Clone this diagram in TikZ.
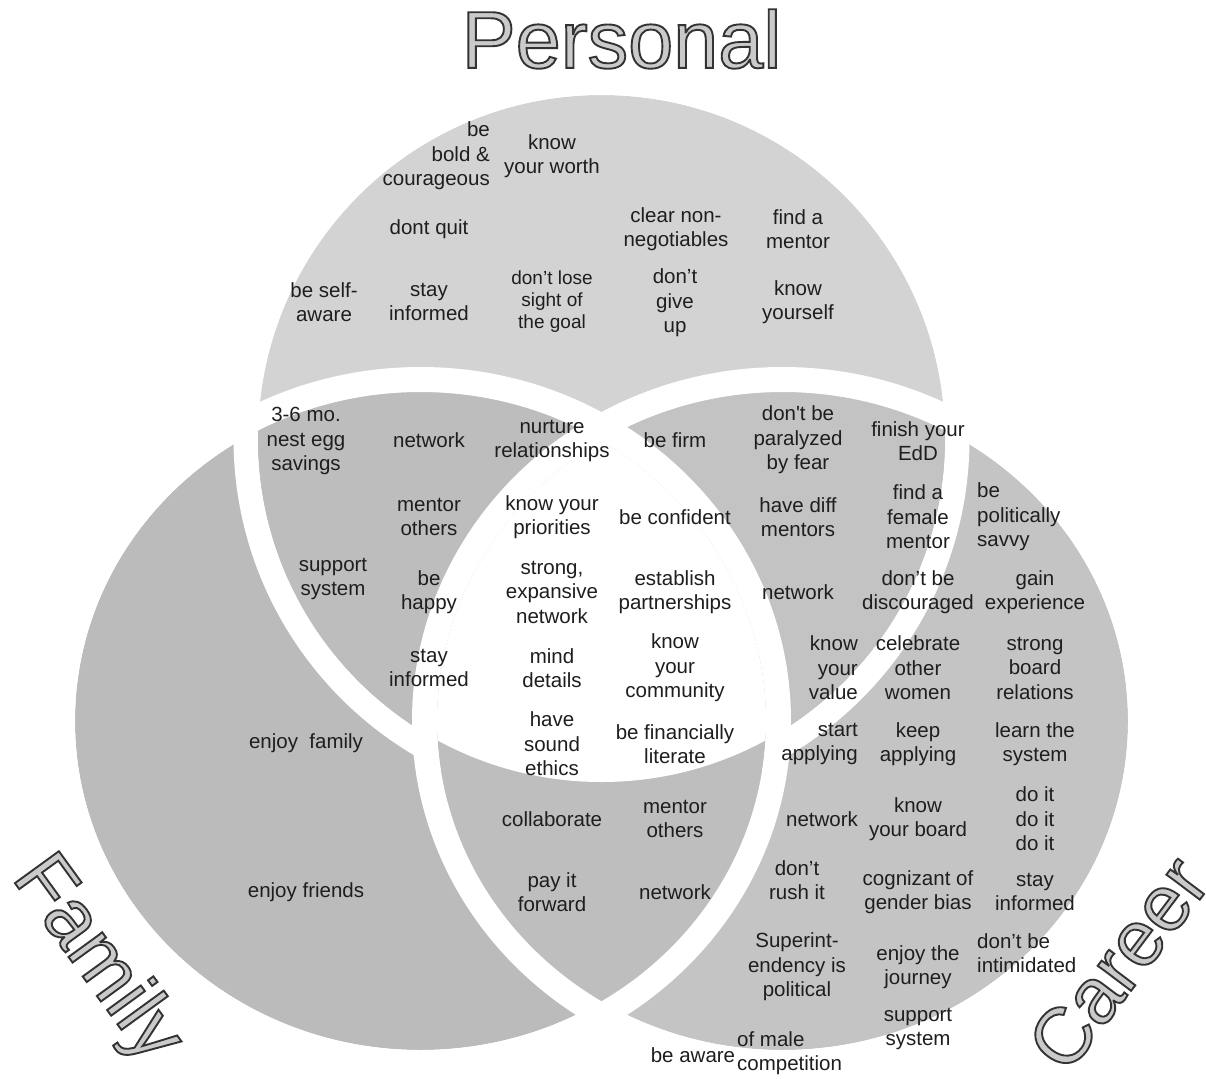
\documentclass[tikz,border=0pt]{standalone}
\usepackage{fontspec}
\setmainfont{Liberation Sans}
\usetikzlibrary{calc}

% region colours
\definecolor{cP}{HTML}{D3D3D3}
\definecolor{cF}{HTML}{BBBBBB}
\definecolor{cC}{HTML}{C4C4C4}
\definecolor{cPF}{HTML}{BDBDBD}
\definecolor{cPC}{HTML}{C3C3C3}
\definecolor{cFC}{HTML}{BEBEBE}
\definecolor{ink}{HTML}{1E1E1E}
\definecolor{ttlfill}{HTML}{CACACA}

% filled and stroked lettering for the three headings
\newcommand\hollowword[1]{\special{pdf:literal direct 2 Tr 1.9 w 0.2 G}#1\special{pdf:literal direct 0 Tr}}

\begin{document}
\begin{tikzpicture}[x=1pt,y=-1pt,
  lbl/.style={font=\fontsize{20.5}{24.5}\selectfont, align=center, inner sep=0pt, text=ink},
  small/.style={lbl, font=\fontsize{19}{22}\selectfont},
  rlbl/.style={lbl, align=right, anchor=east},
  llbl/.style={lbl, align=left, anchor=west},
  ttl/.style={font=\fontsize{81}{90}\selectfont, inner sep=0pt, text=ttlfill},
  side/.style={font=\fontsize{79}{85}\selectfont, inner sep=0pt, text=ttlfill},
  band/.style={fill=white, even odd rule}]

\useasboundingbox (0,0) rectangle (1206,1078);
\fill[white] (0,0) rectangle (1206,1078);

% centres of the three sets
\coordinate (Pc) at (601.5,438.5);
\coordinate (Fc) at (420.5,721);
\coordinate (Cc) at (782.5,721);

% plain fills
\fill[cP] (Pc) circle[radius=343.5pt];
\fill[cF] (Fc) ellipse[x radius=345.5pt, y radius=329pt];
\fill[cC] (Cc) ellipse[x radius=345.5pt, y radius=329pt];

% white rim of Personal (shows over Family and Career only)
\fill[band] (Pc) circle[radius=368pt] (Pc) circle[radius=343.5pt];

% Family & Career
\begin{scope}
  \clip (Fc) ellipse[x radius=345.5pt, y radius=329pt];
  \fill[cFC] (Cc) ellipse[x radius=345.5pt, y radius=329pt];
\end{scope}
% Personal & Family
\begin{scope}
  \clip (Pc) circle[radius=343.5pt];
  \fill[cPF] (Fc) ellipse[x radius=345.5pt, y radius=329pt];
\end{scope}
% Personal & Career
\begin{scope}
  \clip (Pc) circle[radius=343.5pt];
  \fill[cPC] (Cc) ellipse[x radius=345.5pt, y radius=329pt];
\end{scope}

% white rims of Family and Career
\fill[band] (Fc) ellipse[x radius=370.5pt, y radius=354pt] (Fc) ellipse[x radius=345.5pt, y radius=329pt];
\fill[band] (Cc) ellipse[x radius=370.5pt, y radius=354pt] (Cc) ellipse[x radius=345.5pt, y radius=329pt];

% common core
\begin{scope}
  \clip (Pc) circle[radius=343.5pt];
  \clip (Fc) ellipse[x radius=345.5pt, y radius=329pt];
  \fill[white] (Cc) ellipse[x radius=345.5pt, y radius=329pt];
\end{scope}

% outlined headings
\node[ttl] (titleP) at (621.5,39) {\hollowword{Personal}};
\node[side, rotate=-54] (titleF) at (96,960) {\hollowword{Family}};
\node[side, rotate=53] (titleC) at (1118,963) {\hollowword{Career}};

% Personal only
\node[rlbl] (p1) at (490,156) {be\\bold \&\\courageous};
\node[lbl] (p2) at (552,156) {know\\your worth};
\node[lbl] (p3) at (429,229) {dont quit};
\node[lbl] (p4) at (676,229) {clear non-\\negotiables};
\node[lbl] (p5) at (798,229) {find a\\mentor};
\node[lbl] (p6) at (324,302) {be self-\\aware};
\node[lbl] (p7) at (429,302) {stay\\informed};
\node[small] (p8) at (552,302) {don’t lose\\sight of\\the goal};
\node[lbl] (p9) at (675,303) {don’t\\give\\up};
\node[lbl] (p10) at (798,302) {know\\yourself};

% Personal and Family
\node[lbl] (pf1) at (306,441) {3-6 mo.\\nest egg\\savings};
\node[lbl] (pf2) at (429,440) {network};
\node[lbl] (pf3) at (429,517) {mentor\\others};
\node[lbl] (pf4) at (333,579) {support\\system};
\node[lbl] (pf5) at (429,592) {be\\happy};
\node[lbl] (pf6) at (429,668) {stay\\informed};

% all three
\node[lbl] (a1) at (552,441) {nurture\\relationships};
\node[lbl] (a2) at (552,517) {know your\\priorities};
\node[lbl] (a3) at (552,592) {strong,\\expansive\\network};
\node[lbl] (a4) at (552,668) {mind\\details};
\node[lbl] (a5) at (552,744) {have\\sound\\ethics};
\node[lbl] (a6) at (675,440) {be firm};
\node[lbl] (a7) at (675,517) {be confident};
\node[lbl] (a8) at (675,592) {establish\\partnerships};
\node[lbl] (a9) at (675,668) {know\\your\\community};
\node[lbl] (a10) at (675,744) {be financially\\literate};

% Personal and Career
\node[lbl] (pc1) at (798,440) {don\textquotesingle t be\\paralyzed\\by fear};
\node[lbl] (pc2) at (918,441) {finish your\\EdD};
\node[lbl] (pc3) at (798,517) {have diff\\mentors};
\node[lbl] (pc4) at (918,517) {find a\\female\\mentor};
\node[lbl] (pc5) at (798,592) {network};
\node[rlbl] (pc6) at (858,668) {know\\your\\value};

% Career only
\node[llbl] (c1) at (977,517) {be\\politically\\savvy};
\node[lbl] (c2) at (918,592) {don’t be\\discouraged};
\node[lbl] (c3) at (1035,592) {gain\\experience};
\node[lbl] (c4) at (918,668) {celebrate\\other\\women};
\node[lbl] (c5) at (1035,668) {strong\\board\\relations};
\node[rlbl] (c6) at (858,744) {start\\applying};
\node[lbl] (c7) at (918,744) {keep\\applying};
\node[lbl] (c8) at (1035,744) {learn the\\system};
\node[lbl] (c9) at (822,819) {network};
\node[lbl] (c10) at (918,819) {know\\your board};
\node[lbl] (c11) at (1035,819) {do it\\do it\\do it};
\node[lbl] (c12) at (797,880) {don’t\\rush it};
\node[lbl] (c13) at (918,892) {cognizant of\\gender bias};
\node[lbl] (c14) at (1035,892) {stay\\informed};
\node[lbl] (c15) at (797,967) {Superint-\\endency is\\political};
\node[lbl] (c16) at (918,967) {enjoy the\\journey};
\node[llbl] (c17) at (977,953) {don’t be\\intimidated};
\node[lbl] (c18) at (918,1029) {support\\system};
\node[lbl] (c19) at (693,1055) {be aware};
\node[llbl] (c20) at (737,1053) {of male\\competition};

% Family only
\node[lbl] (f1) at (306,743) {enjoy\ \ family};
\node[lbl] (f2) at (306,892) {enjoy friends};

% Family and Career
\node[lbl] (fc1) at (552,819) {collaborate};
\node[lbl] (fc2) at (675,819) {mentor\\others};
\node[lbl] (fc3) at (552,892) {pay it\\forward};
\node[lbl] (fc4) at (675,892) {network};

\end{tikzpicture}
\end{document}
